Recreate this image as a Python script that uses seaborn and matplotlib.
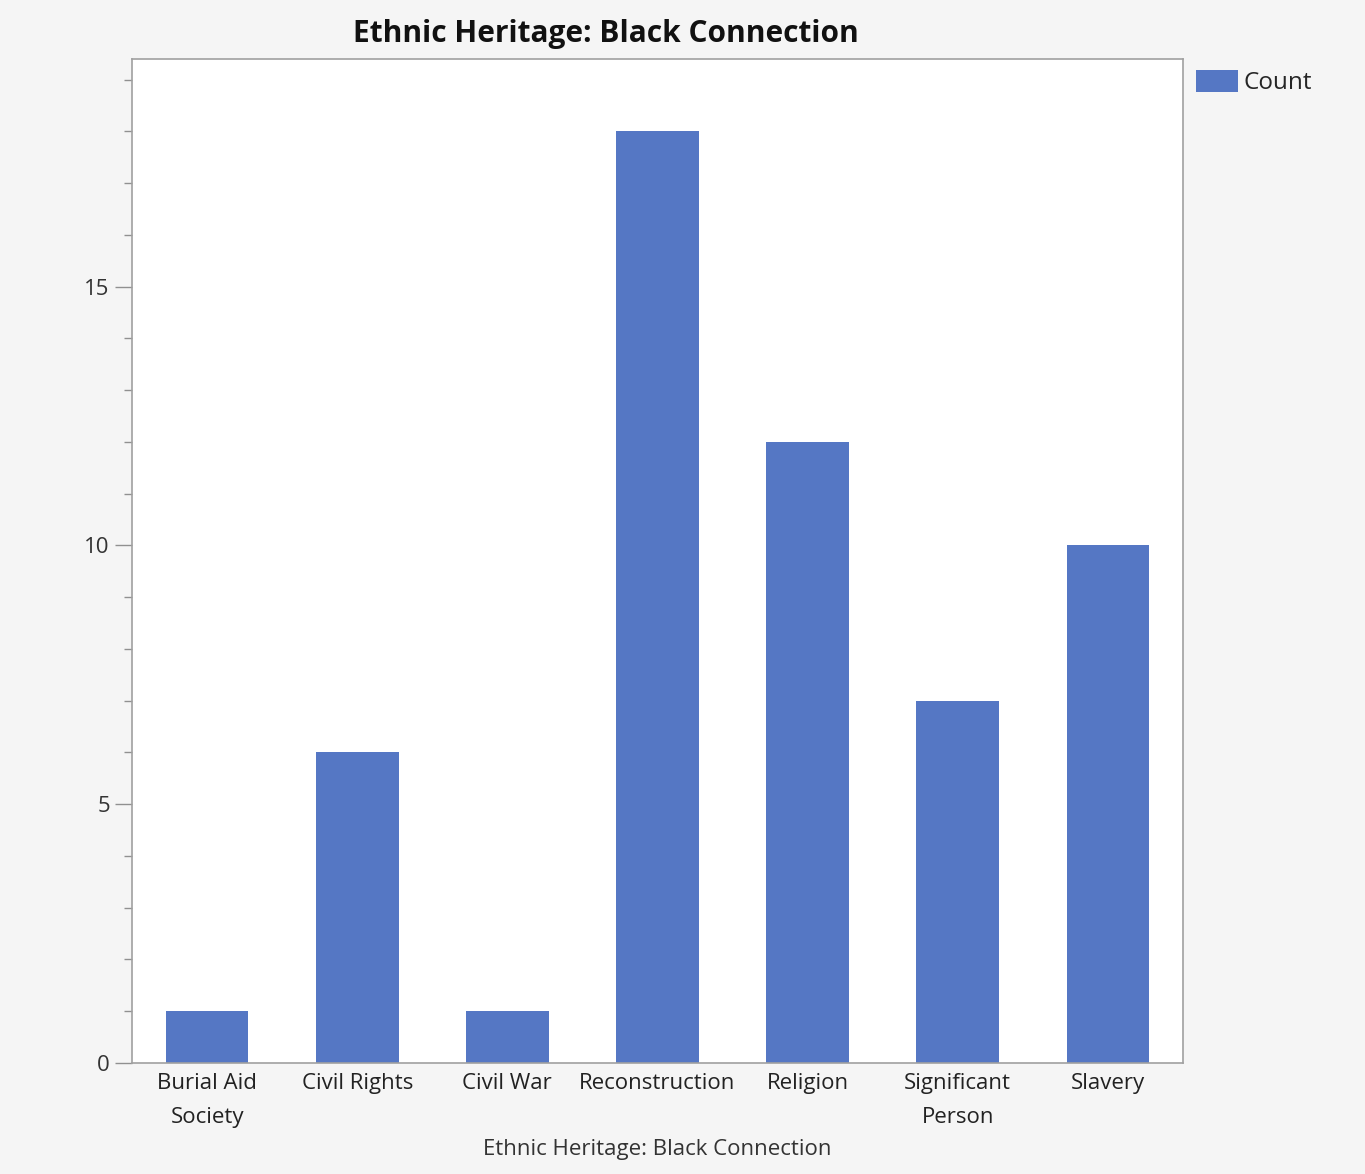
import pandas as pd
import numpy as np
import matplotlib
matplotlib.use('Agg')
import matplotlib.pyplot as plt
import seaborn as sns
from matplotlib.ticker import MultipleLocator
from matplotlib.patches import Patch

# Chart data
categories = ['Burial Aid\nSociety', 'Civil Rights', 'Civil War', 'Reconstruction',
              'Religion', 'Significant\nPerson', 'Slavery']
counts = [1, 6, 1, 18, 12, 7, 10]

bar_color = '#5577C4'
df = pd.DataFrame({'category': categories, 'count': counts})

sns.set_style('white')
plt.rcParams['font.family'] = ['Open Sans', 'DejaVu Sans']

fig = plt.figure(figsize=(13.65, 11.74), dpi=100, facecolor='#f5f5f5')
ax = fig.add_axes([132 / 1365, 1 - 1063 / 1174, (1183 - 132) / 1365, (1063 - 59) / 1174])

sns.barplot(data=df, x='category', y='count', color=bar_color, width=0.55,
            saturation=1, linewidth=0, ax=ax)

ax.set_xlim(-0.5, 6.5)
ax.set_ylim(0, 19.4)
ax.yaxis.set_major_locator(MultipleLocator(5))
ax.yaxis.set_minor_locator(MultipleLocator(1))
ax.tick_params(axis='y', which='major', length=12, width=1, color='#909090',
               labelsize=16, labelcolor='#333333', pad=4, left=True)
ax.tick_params(axis='y', which='minor', length=6, width=1, color='#909090', left=True)
ax.tick_params(axis='x', length=0, labelsize=16, labelcolor='#222222', pad=7)
for lbl in ax.get_xticklabels():
    lbl.set_linespacing(1.85)
    lbl.set_verticalalignment('top')

for s in ax.spines.values():
    s.set_color('#a0a0a0')
    s.set_linewidth(1.2)

ax.set_ylabel('')
ax.set_xlabel('Ethnic Heritage: Black Connection', fontsize=16, color='#333333', labelpad=8)
fig.suptitle('Ethnic Heritage: Black Connection', x=0.444, y=0.984, fontsize=21.5,
             fontweight='bold', color='#111111')

handles = [Patch(facecolor=bar_color, edgecolor='none', label='Count')]
fig.legend(handles=handles, loc='upper left', bbox_to_anchor=(1186 / 1365, 1 - 60 / 1174),
           frameon=False, fontsize=17.5, handlelength=1.75, handleheight=1.05,
           handletextpad=0.2, borderaxespad=0)

fig.savefig('out.png', dpi=100, facecolor=fig.get_facecolor())
